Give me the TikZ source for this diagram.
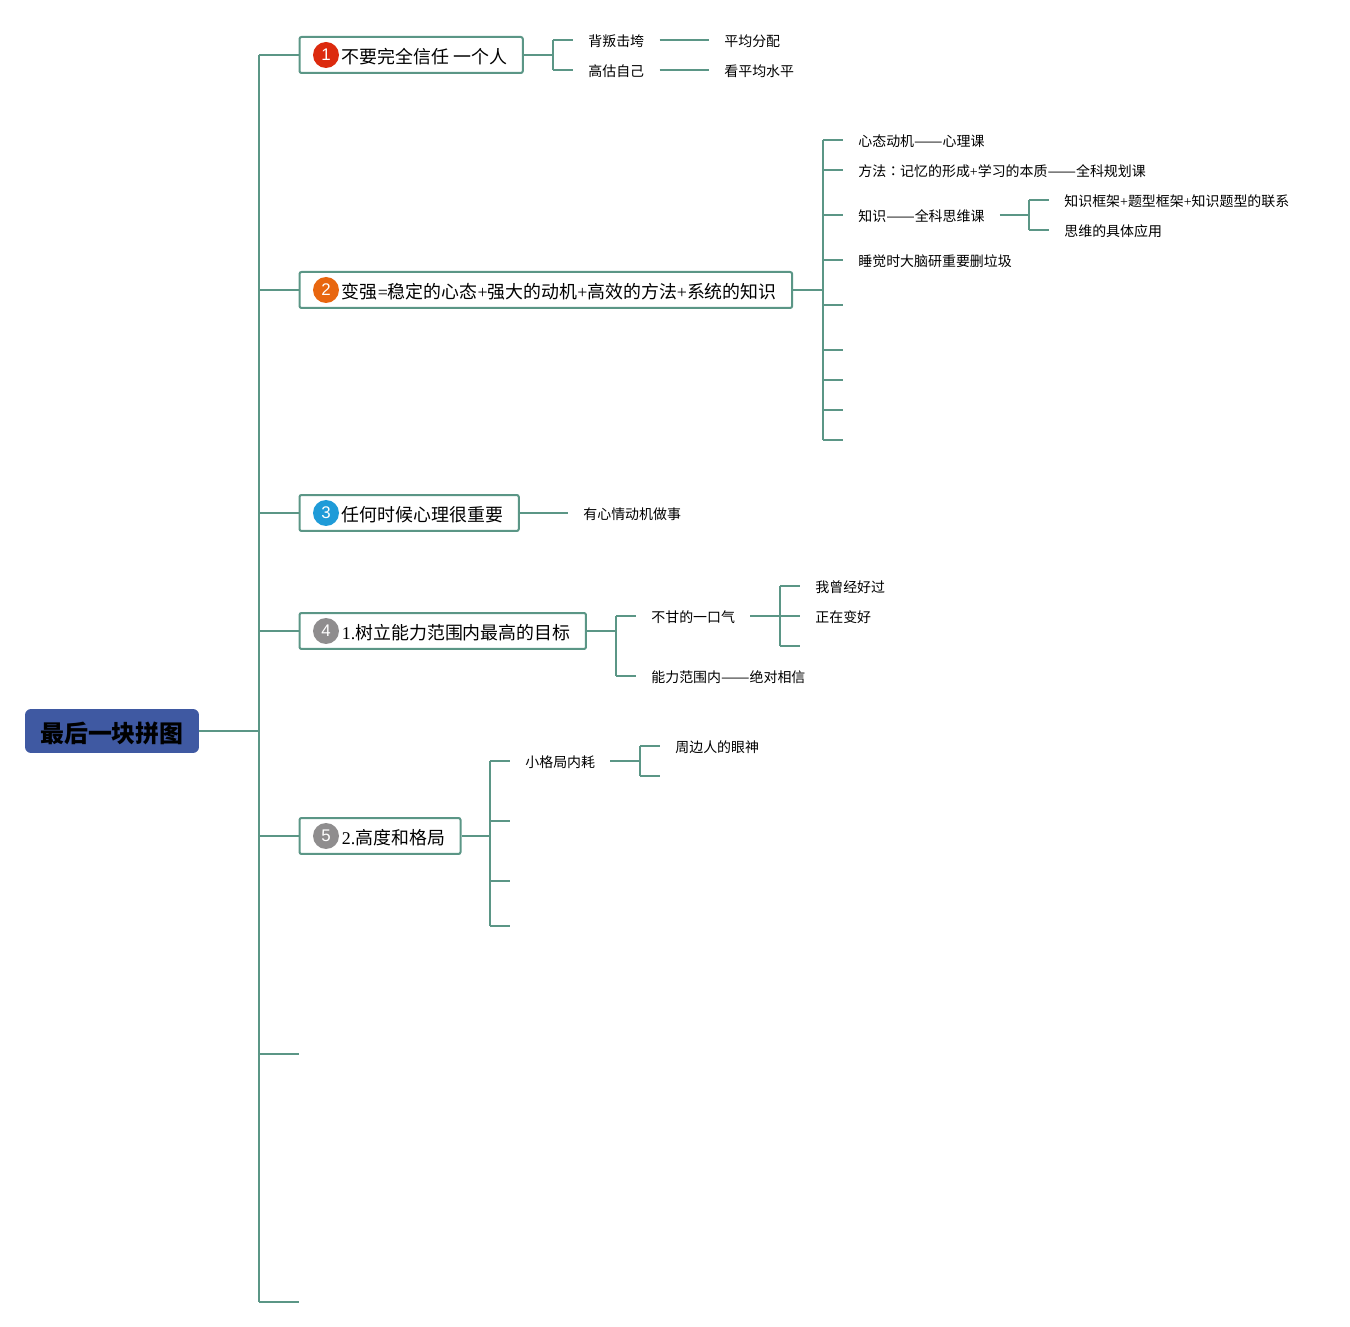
\documentclass[tikz,border=0pt]{standalone}
\usepackage{graphicx}
\usepackage{fontspec}
\setmainfont{Noto Sans CJK SC}
\newfontfamily\latfont{Liberation Serif}
\newfontfamily\numfont{Liberation Sans}
\newfontfamily\tcfont{Noto Sans CJK TC}
\newcommand{\lat}[1]{{\latfont #1}}
\newcommand{\longdash}{\scalebox{1.22}[1]{——}}
\definecolor{linkgreen}{HTML}{5B9686}
\definecolor{rootblue}{HTML}{3F59A2}
\definecolor{badgered}{HTML}{DC2A0E}
\definecolor{badgeorange}{HTML}{E8660F}
\definecolor{badgeblue}{HTML}{1F9BD8}
\definecolor{badgegray}{HTML}{8F8D8E}
\tikzset{
    link/.style={draw=linkgreen,line width=0.04cm},
    rootbox/.style={fill=rootblue,rounded corners=0.12cm,minimum width=3.48cm,minimum height=0.88cm,inner sep=0pt,text height=0.46cm,text depth=0.016cm,font=\fontsize{13.6pt}{16pt}\selectfont\bfseries},
    topicbox/.style={link,rounded corners=0.04cm,anchor=west,minimum height=0.72cm,inner ysep=0pt,inner xsep=0.31cm,text height=0.37cm,text depth=0.016cm,font=\fontsize{10.2pt}{12pt}\selectfont},
    badgedot/.style={circle,fill=#1,minimum size=0.52cm,inner sep=0pt,text=white,font=\fontsize{9.6pt}{10pt}\selectfont\numfont},
    leaf/.style={anchor=west,inner ysep=0pt,inner xsep=0.3cm,text height=0.28cm,text depth=0.02cm,font=\fontsize{7.94pt}{10pt}\selectfont}
}
\begin{document}
\begin{tikzpicture}[x=0.02cm,y=-0.02cm]
    \useasboundingbox (0,0) rectangle (1350,1327);

    %root and main topics
    \node[rootbox] (root) at (112,731) {最后一块拼图};
    \node[topicbox] (box1) at (298.5,55) {\hspace*{0.54cm}不要完全信任 一个人};
    \node[topicbox] (box2) at (298.5,290) {\hspace*{0.54cm}变强\lat{=}稳定的心态\lat{+}强大的动机\lat{+}高效的方法\lat{+}系统的知识};
    \node[topicbox] (box3) at (298.5,513) {\hspace*{0.54cm}任何时候心理很重要};
    \node[topicbox] (box4) at (298.5,631) {\hspace*{0.54cm}\lat{1.}树立能力范围内最高的目标};
    \node[topicbox] (box5) at (298.5,836) {\hspace*{0.54cm}\lat{2.}高度和格局};
    \node[badgedot=badgered] (badge1) at (326,55) {1};
    \node[badgedot=badgeorange] (badge2) at (326,290) {2};
    \node[badgedot=badgeblue] (badge3) at (326,513) {3};
    \node[badgedot=badgegray] (badge4) at (326,631) {4};
    \node[badgedot=badgegray] (badge5) at (326,836) {5};

    %trunk
    \coordinate (trunk) at (259,731);
    \coordinate (blank6) at (299,1054);
    \coordinate (blank7) at (299,1302);
    \draw[link] (root.east) -- (trunk);
    \draw[link] (trunk |- box1.west) -- (trunk |- blank7);
    \foreach \t in {box1.west,box2.west,box3.west,box4.west,box5.west,blank6,blank7}
        \draw[link] (trunk |- \t) -- (\t);

    %first topic
    \node[leaf] (sub11) at (573,40) {背叛击垮};
    \node[leaf] (sub12) at (573,70) {高估自己};
    \node[leaf] (sub11a) at (709,40) {平均分配};
    \node[leaf] (sub12a) at (709,70) {看平均水平};
    \coordinate (fork1) at (553,55);
    \draw[link] (box1.east) -- (fork1);
    \draw[link] (fork1 |- sub11.west) -- (fork1 |- sub12.west);
    \foreach \t in {sub11,sub12}
        \draw[link] (fork1 |- \t.west) -- (\t.west);
    \draw[link] (sub11.east) -- (sub11a.west);
    \draw[link] (sub12.east) -- (sub12a.west);

    %second topic
    \node[leaf] (sub21) at (843,140) {心态动机\longdash 心理课};
    \node[leaf] (sub22) at (843,170) {方法{\tcfont ：}记忆的形成\lat{+}学习的本质\longdash 全科规划课};
    \node[leaf] (sub23) at (843,215) {知识\longdash 全科思维课};
    \node[leaf] (sub24) at (843,260) {睡觉时大脑研重要删垃圾};
    \node[leaf] (sub23a) at (1049,200) {知识框架\lat{+}题型框架\lat{+}知识题型的联系};
    \node[leaf] (sub23b) at (1049,230) {思维的具体应用};
    \coordinate (blank25) at (843,305);
    \coordinate (blank26) at (843,350);
    \coordinate (blank27) at (843,380);
    \coordinate (blank28) at (843,410);
    \coordinate (blank29) at (843,440);
    \coordinate (fork2) at (823,290);
    \coordinate (fork23) at (1029,215);
    \draw[link] (box2.east) -- (fork2);
    \draw[link] (fork2 |- sub21.west) -- (fork2 |- blank29);
    \foreach \t in {sub21.west,sub22.west,sub23.west,sub24.west,blank25,blank26,blank27,blank28,blank29}
        \draw[link] (fork2 |- \t) -- (\t);
    \draw[link] (sub23.east) -- (fork23);
    \draw[link] (fork23 |- sub23a.west) -- (fork23 |- sub23b.west);
    \foreach \t in {sub23a,sub23b}
        \draw[link] (fork23 |- \t.west) -- (\t.west);

    %third topic
    \node[leaf] (sub31) at (568,513) {有心情动机做事};
    \draw[link] (box3.east) -- (sub31.west);

    %fourth topic
    \node[leaf] (sub41) at (636,616) {不甘的一口气};
    \node[leaf] (sub42) at (636,676) {能力范围内\longdash 绝对相信};
    \node[leaf] (sub41a) at (800,586) {我曾经好过};
    \node[leaf] (sub41b) at (800,616) {正在变好};
    \coordinate (blank41c) at (800,646);
    \coordinate (fork4) at (616,631);
    \coordinate (fork41) at (780,616);
    \draw[link] (box4.east) -- (fork4);
    \draw[link] (fork4 |- sub41.west) -- (fork4 |- sub42.west);
    \foreach \t in {sub41,sub42}
        \draw[link] (fork4 |- \t.west) -- (\t.west);
    \draw[link] (sub41.east) -- (fork41);
    \draw[link] (fork41 |- sub41a.west) -- (fork41 |- blank41c);
    \foreach \t in {sub41a.west,sub41b.west,blank41c}
        \draw[link] (fork41 |- \t) -- (\t);

    %fifth topic
    \node[leaf] (sub51) at (510,761) {小格局内耗};
    \node[leaf] (sub51a) at (660,746) {周边人的眼神};
    \coordinate (blank51b) at (660,776);
    \coordinate (blank52) at (510,821);
    \coordinate (blank53) at (510,881);
    \coordinate (blank54) at (510,926);
    \coordinate (fork5) at (490,836);
    \coordinate (fork51) at (640,761);
    \draw[link] (box5.east) -- (fork5);
    \draw[link] (fork5 |- sub51.west) -- (fork5 |- blank54);
    \foreach \t in {sub51.west,blank52,blank53,blank54}
        \draw[link] (fork5 |- \t) -- (\t);
    \draw[link] (sub51.east) -- (fork51);
    \draw[link] (fork51 |- sub51a.west) -- (fork51 |- blank51b);
    \foreach \t in {sub51a.west,blank51b}
        \draw[link] (fork51 |- \t) -- (\t);
\end{tikzpicture}
\end{document}
